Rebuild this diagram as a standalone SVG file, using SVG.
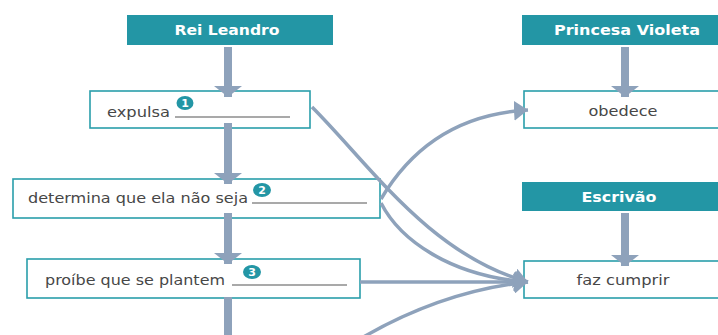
<svg xmlns="http://www.w3.org/2000/svg" width="718" height="335" viewBox="0 0 718 335">
<defs>
<style>
.hdr{fill:#2396a5}
.hdr-t{font-family:"DejaVu Sans","Liberation Sans",sans-serif;font-weight:bold;font-size:14px;fill:#ffffff;text-anchor:middle}
.box{fill:#ffffff;stroke:#2a9eab;stroke-width:1.6}
.t{font-family:"DejaVu Sans","Liberation Sans",sans-serif;font-size:14.5px;fill:#474747}
.tc{text-anchor:middle}
.ul{stroke:#a9a9a9;stroke-width:2}
.badge{fill:#2396a5}
.bt{font-family:"DejaVu Sans","Liberation Sans",sans-serif;font-weight:bold;font-size:11px;fill:#ffffff;text-anchor:middle}
.stem{stroke:#8ea2bb;stroke-width:8;fill:none}
.cur{stroke:#8ea2bb;stroke-width:3.5;fill:none}
</style>
<marker id="vh" markerUnits="userSpaceOnUse" markerWidth="11" markerHeight="28" refX="11" refY="14" orient="auto">
<path d="M0,0 L11,14 L0,28 Z" fill="#8ea2bb"/>
</marker>
<marker id="ch" markerUnits="userSpaceOnUse" markerWidth="14" markerHeight="20" refX="14" refY="10" orient="auto">
<path d="M0,0 L14,10 L0,20 Z" fill="#8ea2bb"/>
</marker>
</defs>
<rect width="718" height="335" fill="#ffffff"/>

<g id="rei-leandro">
<rect class="hdr" x="127" y="15" width="206" height="30"/>
<text class="hdr-t" x="227" y="35" textLength="105" lengthAdjust="spacingAndGlyphs">Rei Leandro</text>
</g>
<g id="expulsa">
<rect class="box" x="90" y="91" width="220" height="37"/>
<text class="t" x="107" y="117" textLength="63" lengthAdjust="spacingAndGlyphs">expulsa</text>
<line class="ul" x1="175" y1="117" x2="290" y2="117"/>
<ellipse class="badge" cx="185" cy="103" rx="8.5" ry="7"/>
<text class="bt" x="185" y="107">1</text>
</g>
<g id="determina">
<rect class="box" x="13" y="179" width="367" height="39"/>
<text class="t" x="28" y="203" textLength="220" lengthAdjust="spacingAndGlyphs">determina que ela não seja</text>
<line class="ul" x1="252" y1="203" x2="367" y2="203"/>
<ellipse class="badge" cx="262" cy="190" rx="9" ry="7"/>
<text class="bt" x="262" y="194">2</text>
</g>
<g id="proibe">
<rect class="box" x="27" y="259" width="333" height="39"/>
<text class="t" x="45" y="285" textLength="180" lengthAdjust="spacingAndGlyphs">proíbe que se plantem</text>
<line class="ul" x1="232" y1="285" x2="347" y2="285"/>
<ellipse class="badge" cx="252" cy="272" rx="9" ry="7"/>
<text class="bt" x="252" y="276">3</text>
</g>
<g id="princesa-violeta">
<rect class="hdr" x="522" y="15" width="210" height="30"/>
<text class="hdr-t" x="627" y="35" textLength="146" lengthAdjust="spacingAndGlyphs">Princesa Violeta</text>
</g>
<g id="obedece">
<rect class="box" x="524" y="91" width="210" height="37"/>
<text class="t tc" x="623" y="116" textLength="69" lengthAdjust="spacingAndGlyphs">obedece</text>
</g>
<g id="escrivao">
<rect class="hdr" x="522" y="182" width="210" height="29"/>
<text class="hdr-t" x="619" y="202" textLength="75" lengthAdjust="spacingAndGlyphs">Escrivão</text>
</g>
<g id="faz-cumprir">
<rect class="box" x="524" y="261" width="210" height="37"/>
<text class="t tc" x="623" y="285" textLength="93" lengthAdjust="spacingAndGlyphs">faz cumprir</text>
</g>

<g id="connectors">
<line class="stem" x1="228" y1="47" x2="228" y2="97" marker-end="url(#vh)"/>
<line class="stem" x1="228" y1="123" x2="228" y2="184" marker-end="url(#vh)"/>
<line class="stem" x1="228" y1="213" x2="228" y2="264" marker-end="url(#vh)"/>
<line class="stem" x1="228" y1="297" x2="228" y2="340"/>
<line class="stem" x1="625" y1="47" x2="625" y2="97" marker-end="url(#vh)"/>
<line class="stem" x1="625" y1="213" x2="625" y2="266" marker-end="url(#vh)"/>
<path class="cur" d="M312,107 C370,165 430,255 528,282" marker-end="url(#ch)"/>
<path class="cur" d="M381,199 C410,150 455,114 528,110" marker-end="url(#ch)"/>
<path class="cur" d="M381,203 C400,240 450,276 528,282" marker-end="url(#ch)"/>
<path class="cur" d="M360,282 L528,282" marker-end="url(#ch)"/>
<path class="cur" d="M350,345 C410,308 470,288 528,282" marker-end="url(#ch)"/>
</g>
</svg>
